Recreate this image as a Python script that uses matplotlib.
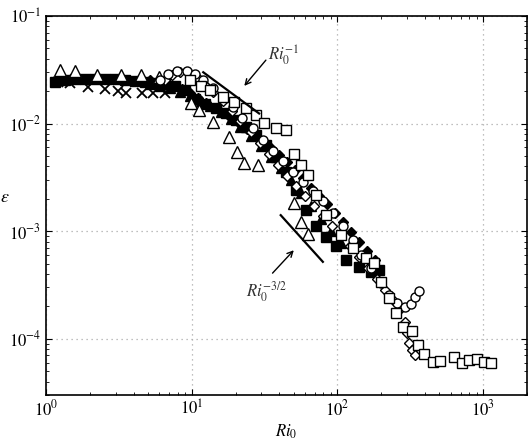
import numpy as np
import matplotlib
matplotlib.use('Agg')
import matplotlib.pyplot as plt

plt.rcParams['font.family'] = ['STIXGeneral', 'DejaVu Serif']
plt.rcParams['mathtext.fontset'] = 'stix'

# open triangles
tri_x = [1.25, 1.58, 2.24, 3.28, 4.5, 6.0, 9.95, 11.3, 13.9, 17.9, 20.3, 23.0, 28.3, 50.1, 56.0, 62.5]
tri_y = [0.0315, 0.0308, 0.0283, 0.0283, 0.028, 0.027, 0.0155, 0.0134, 0.0103, 0.0075, 0.0054, 0.0043, 0.0041, 0.00182, 0.00121, 0.00094]

# crosses
crs_x = [1.21, 1.46, 1.95, 2.55, 3.13, 3.55, 4.58, 5.45, 6.59]
crs_y = [0.0243, 0.0238, 0.0219, 0.0209, 0.020, 0.0192, 0.0192, 0.0192, 0.0192]

# filled squares
fsq_x = [1.15, 1.35, 1.58, 1.86, 2.17, 2.55, 2.98, 3.50, 4.10, 4.80, 5.62, 6.59, 7.72, 9.05,
         10.6, 12.4, 14.6, 17.1, 20.0, 23.4, 27.4, 32.2, 37.7, 44.2, 51.7, 60.6, 71.0, 83.2,
         97.5, 114, 140, 170, 193]
fsq_y = [0.0243, 0.0254, 0.0259, 0.0259, 0.0259, 0.0259, 0.0259, 0.0254, 0.0248, 0.0243, 0.0238,
         0.0233, 0.0223, 0.0205, 0.0169, 0.0152, 0.0139, 0.0125, 0.0108, 0.00928, 0.00782, 0.0063,
         0.00488, 0.00354, 0.0024, 0.00157, 0.00111, 0.00088, 0.000725, 0.000537, 0.000462,
         0.000416, 0.000434]

# filled triangles
ftr_x = [5.20, 6.09, 7.13, 8.36, 9.80, 11.5, 13.4, 15.8, 18.5, 21.6, 25.4, 29.7, 34.8, 40.8,
         47.8, 56.0, 65.6, 76.9, 90.1, 105]
ftr_y = [0.0233, 0.0223, 0.0214, 0.0196, 0.018, 0.0162, 0.0146, 0.0128, 0.011, 0.00928, 0.00765,
         0.00618, 0.00488, 0.00386, 0.00298, 0.00226, 0.00171, 0.00129, 0.001, 0.000773]

# filled diamonds
fdi_x = [5.20, 5.90, 6.70, 7.60, 8.63, 9.80, 11.1, 12.6, 14.3, 16.3, 18.5, 21.0, 23.8, 27.0,
         30.7, 34.8, 39.5, 44.9, 50.9, 57.8, 65.6, 74.5, 84.5, 95.9, 109, 124, 140, 159, 181]
fdi_y = [0.0254, 0.0243, 0.0233, 0.0223, 0.0209, 0.0192, 0.0173, 0.0155, 0.0139, 0.0125,
         0.01125, 0.0101, 0.00889, 0.00782, 0.00688, 0.00592, 0.00509, 0.00438, 0.00369,
         0.00311, 0.00251, 0.00212, 0.00178, 0.00147, 0.00121, 0.00098, 0.00079, 0.000652,
         0.000537]

# open circles
cir_x = [6.09, 6.91, 7.97, 9.34, 10.6, 12.0, 13.9, 16.3, 19.1, 22.3, 26.2, 30.7, 35.9, 42.1,
         49.3, 57.8, 67.7, 79.4, 93.0, 109, 128, 145, 170, 199, 226, 256, 291, 320, 341, 363]
cir_y = [0.0254, 0.0288, 0.0308, 0.0308, 0.0288, 0.0254, 0.0214, 0.0177, 0.0142, 0.01125,
         0.00908, 0.00703, 0.00555, 0.00448, 0.00354, 0.00286, 0.00236, 0.0019, 0.00147, 0.00111,
         0.000825, 0.000598, 0.000453, 0.000328, 0.000254, 0.000214, 0.000196, 0.000209,
         0.000243, 0.000277]

# open diamonds
dia_x = [6.59, 7.36, 8.36, 9.49, 10.8, 12.2, 14.1, 16.3, 18.8, 21.6, 25.4, 29.2, 33.7, 38.9,
         44.9, 51.7, 59.7, 68.8, 79.4, 91.5, 105, 122, 140, 162, 187, 212, 241, 265, 291, 301,
         310, 325, 341]
dia_y = [0.0254, 0.0283, 0.0301, 0.0301, 0.0271, 0.0233, 0.0196, 0.0162, 0.0131, 0.01055,
         0.00833, 0.00659, 0.0052, 0.00411, 0.00325, 0.00262, 0.00212, 0.00171, 0.00138,
         0.00111, 0.000898, 0.000725, 0.000573, 0.000453, 0.000357, 0.000282, 0.000228,
         0.000184, 0.000142, 0.000112, 9.08e-5, 7.82e-5, 7.03e-5]

# open squares
sq_x = [9.80, 11.5, 13.4, 16.3, 19.4, 23.4, 27.4, 31.1, 37.7, 44.2, 50.1, 56.0, 62.5, 71.0,
        83.2, 105, 128, 157, 178, 199, 226, 252, 282, 325, 357, 394, 454, 507, 633, 718, 802,
        910, 1018, 1137]
sq_y = [0.0254, 0.0223, 0.0205, 0.0177, 0.0158, 0.0139, 0.012, 0.0101, 0.00908, 0.00871,
        0.0052, 0.00411, 0.00332, 0.00216, 0.00141, 0.000918, 0.000695, 0.000561, 0.000504,
        0.000336, 0.000238, 0.000173, 0.000128, 0.000117, 8.7e-5, 7.18e-5, 6.04e-5, 6.18e-5,
        6.73e-5, 5.92e-5, 6.31e-5, 6.44e-5, 6.04e-5, 5.92e-5]

fig = plt.figure(figsize=(5.31, 4.42), dpi=100)
ax = fig.add_axes([0.0866, 0.1063, 0.906, 0.8575])

ax.plot(fsq_x, fsq_y, 's', ms=6.5, mfc='black', mec='black', mew=1)
ax.plot(ftr_x, ftr_y, '^', ms=6.5, mfc='black', mec='black', mew=1)
ax.plot(fdi_x, fdi_y, 'D', ms=5.5, mfc='black', mec='black', mew=1)
ax.plot(crs_x, crs_y, 'x', ms=7.5, mec='black', mew=1.3)
ax.plot(tri_x, tri_y, '^', ms=8, mfc='white', mec='black', mew=1)
ax.plot(dia_x, dia_y, 'D', ms=5.5, mfc='white', mec='black', mew=1)
ax.plot(cir_x, cir_y, 'o', ms=6.5, mfc='white', mec='black', mew=1)
ax.plot(sq_x, sq_y, 's', ms=6.5, mfc='white', mec='black', mew=1)

# power-law reference lines
l1 = np.array([12.0, 29.0])
ax.plot(l1, 0.36 / l1, 'k-', lw=1.6)
l2 = np.array([40.8, 79.4])
ax.plot(l2, 0.367 / l2**1.5, 'k-', lw=1.6)

ax.annotate('', xy=(22.3, 0.0214), xytext=(33.2, 0.0407),
            arrowprops=dict(arrowstyle='->', color='black', lw=1))
ax.text(33.5, 0.0435, r'$Ri_0^{-1}$', fontsize=12, ha='left', va='center', color='#333333')
ax.annotate('', xy=(51.7, 0.000695), xytext=(34.8, 0.00039),
            arrowprops=dict(arrowstyle='->', color='black', lw=1))
ax.text(32.7, 0.000275, r'$Ri_0^{-3/2}$', fontsize=12, ha='center', va='center', color='#333333')

ax.set_xscale('log')
ax.set_yscale('log')
ax.set_xlim(1, 2000)
ax.set_ylim(3e-5, 1e-1)
ax.grid(True, which='major', linestyle=(0, (1, 3)), color='#aaaaaa', lw=0.9)
ax.tick_params(which='both', direction='in', top=True, right=True, labelsize=12)
ax.tick_params(which='major', length=4)
ax.tick_params(which='minor', length=2)
for s in ax.spines.values():
    s.set_linewidth(1.2)

ax.set_xlabel(r'$Ri_0$', fontsize=12, labelpad=2)
ax.set_ylabel(r'$\varepsilon$', fontsize=13, rotation=0)
ax.yaxis.set_label_coords(-0.085, 0.5)

fig.savefig('out.png', dpi=100)
